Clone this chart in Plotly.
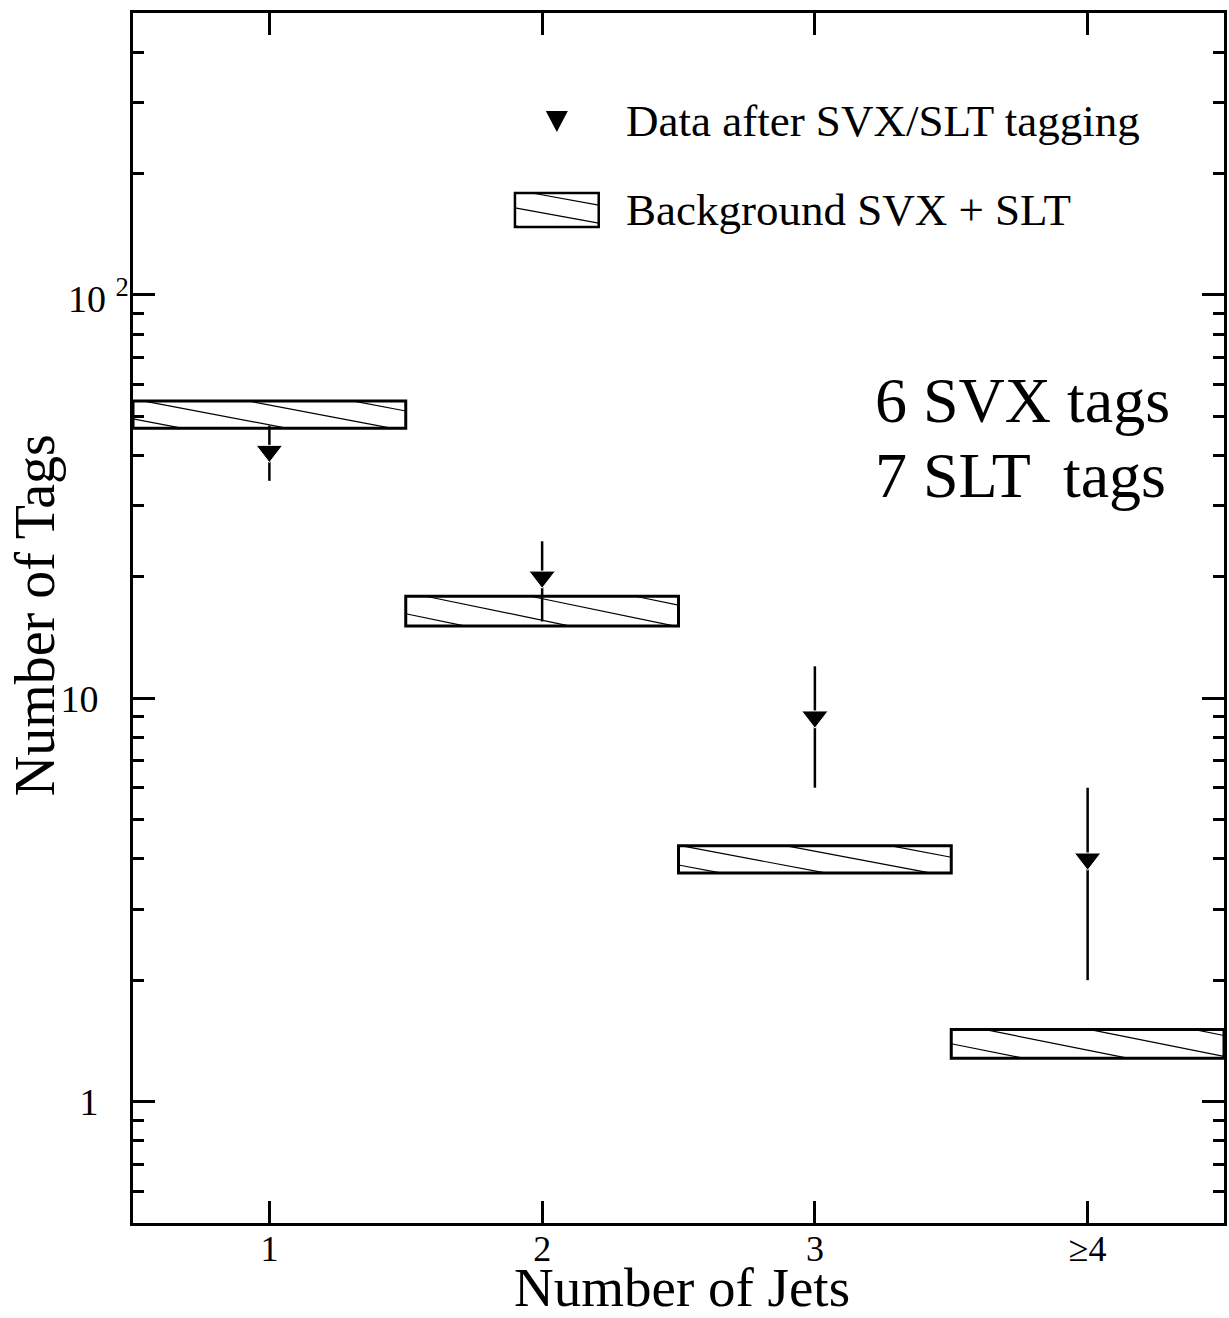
import math
import plotly.graph_objects as go

# ---------------- data ----------------
n_jets = [1, 2, 3, 4]
jet_labels = ["1", "2", "3", "≥4"]
data_tags = [41, 20, 9, 4]
data_err = [6.4, 4.5, 3.0, 2.0]
bkg_low = [46.7, 15.1, 3.69, 1.28]
bkg_high = [54.6, 17.9, 4.31, 1.51]

y_tickvals = [1, 10, 100]
y_ticktext = ["1", "10", ""]          # 10^2 label drawn as annotation below
y_top_label = "10 <sup>2</sup>"
y_minor = [0.5, 0.6, 0.7, 0.8, 0.9, 2, 3, 4, 5, 6, 7, 8, 9,
           20, 30, 40, 50, 60, 70, 80, 90, 200, 300, 400, 500]

FONT = "Liberation Serif, Times New Roman, serif"

# geometry of figure (pixels) for styling
W, H = 1229, 1318
ML, MR, MT, MB = 133, 2, 13, 95
PW = W - ML - MR
PH = H - MT - MB
px_per_x = PW / 4.0

fig = go.Figure()

# background boxes
fig.add_trace(go.Bar(
    x=n_jets, base=bkg_low,
    y=[h - l for h, l in zip(bkg_high, bkg_low)],
    width=1.0,
    marker=dict(color="rgba(0,0,0,0)", line=dict(color="black", width=3)),
    showlegend=False, hoverinfo="skip",
))

# hatching inside boxes (style: shallow diagonal lines)
period = 105 / px_per_x
run = 145 / px_per_x
offsets_px = [10, 20, 2, 33]


def hatch(xl, xr, lo, hi, offset):
    xs, ys = [], []
    a, b = math.log10(lo), math.log10(hi)
    x0 = xl + offset - period * (math.ceil(run / period) + 1)
    while x0 < xr:
        v_a = 1 - (xr - x0) / run
        v_b = 1 - (xl - x0) / run
        vmin, vmax = max(0.0, v_a), min(1.0, v_b)
        if vmin < vmax:
            for v in (vmax, vmin):
                xs.append(x0 + run * (1 - v))
                ys.append(10 ** (a + v * (b - a)))
            xs.append(None)
            ys.append(None)
        x0 += period
    return xs, ys


hx, hy = [], []
for xc, lo, hi, off in zip(n_jets, bkg_low, bkg_high, offsets_px):
    xs, ys = hatch(xc - 0.5, xc + 0.5, lo, hi, off / px_per_x)
    hx += xs
    hy += ys
fig.add_trace(go.Scatter(x=hx, y=hy, mode="lines",
                         line=dict(color="black", width=1.2),
                         showlegend=False, hoverinfo="skip"))

# data points
fig.add_trace(go.Scatter(
    x=n_jets, y=data_tags, mode="markers",
    marker=dict(symbol="triangle-down", size=23, color="black",
                line=dict(color="white", width=1)),
    error_y=dict(type="data", array=data_err, symmetric=True,
                 color="black", thickness=2.5, width=0),
    showlegend=False,
))

# ---------------- layout ----------------
def to_paper_x(px):
    return (px - ML) / PW


def to_paper_y(py):
    return (H - MB - py) / PH


shapes = []
annotations = []

# legend: triangle marker
shapes.append(dict(type="path", xref="paper", yref="paper",
                   xsizemode="pixel", ysizemode="pixel",
                   xanchor=to_paper_x(558), yanchor=to_paper_y(121),
                   path="M-11,10 L11,10 L0,-11 Z",
                   fillcolor="black", line=dict(color="black", width=0)))
# legend: hatched box
bx0, bx1, by0, by1 = 516, 600, 193, 227
shapes.append(dict(type="rect", xref="paper", yref="paper",
                   x0=to_paper_x(bx0), x1=to_paper_x(bx1),
                   y0=to_paper_y(by1), y1=to_paper_y(by0),
                   line=dict(color="black", width=2.5)))
lper, lrun = 100, 189
x0 = bx0 + 17 - 3 * lper
while x0 < bx1:
    v_a = 1 - (bx1 - x0) / lrun
    v_b = 1 - (bx0 - x0) / lrun
    vmin, vmax = max(0.0, v_a), min(1.0, v_b)
    if vmin < vmax:
        pts = [(x0 + lrun * (1 - v), by1 - v * (by1 - by0)) for v in (vmax, vmin)]
        shapes.append(dict(type="line", xref="paper", yref="paper",
                           x0=to_paper_x(pts[0][0]), y0=to_paper_y(pts[0][1]),
                           x1=to_paper_x(pts[1][0]), y1=to_paper_y(pts[1][1]),
                           line=dict(color="black", width=1.2)))
    x0 += lper

annotations.append(dict(text="Data after SVX/SLT tagging", xref="paper", yref="paper",
                        x=to_paper_x(625), y=to_paper_y(121), xanchor="left", yanchor="middle",
                        showarrow=False, font=dict(family=FONT, size=45, color="black")))
annotations.append(dict(text="Background SVX + SLT", xref="paper", yref="paper",
                        x=to_paper_x(625), y=to_paper_y(210), xanchor="left", yanchor="middle",
                        showarrow=False, font=dict(family=FONT, size=45, color="black")))
annotations.append(dict(text="6 SVX tags", xref="paper", yref="paper",
                        x=to_paper_x(875), y=to_paper_y(400), xanchor="left", yanchor="middle",
                        showarrow=False, font=dict(family=FONT, size=64, color="black")))
annotations.append(dict(text="7 SLT&nbsp; tags", xref="paper", yref="paper",
                        x=to_paper_x(875), y=to_paper_y(475), xanchor="left", yanchor="middle",
                        showarrow=False, font=dict(family=FONT, size=64, color="black")))
# 10^2 tick label
annotations.append(dict(text=y_top_label, xref="paper", yref="y",
                        x=to_paper_x(131), y=math.log10(y_tickvals[2]),
                        xanchor="right", yanchor="middle", yshift=-1,
                        showarrow=False, font=dict(family=FONT, size=38, color="black")))
# axis titles
annotations.append(dict(text="Number of Jets", xref="paper", yref="paper",
                        x=to_paper_x(684), y=to_paper_y(1287), xanchor="center", yanchor="middle",
                        showarrow=False, font=dict(family=FONT, size=55, color="black")))
annotations.append(dict(text="Number of Tags", xref="paper", yref="paper",
                        x=to_paper_x(35), y=to_paper_y(615), xanchor="center", yanchor="middle",
                        textangle=-90,
                        showarrow=False, font=dict(family=FONT, size=56, color="black")))

fig.update_layout(
    width=W, height=H,
    margin=dict(l=ML, r=MR, t=MT, b=MB, pad=0),
    paper_bgcolor="white", plot_bgcolor="white",
    font=dict(family=FONT, color="black"),
    shapes=shapes, annotations=annotations,
    showlegend=False,
    xaxis=dict(range=[0.5, 4.5], tickvals=n_jets, ticktext=jet_labels,
               ticks="inside", ticklen=22, tickwidth=2.5, tickcolor="black",
               showline=True, linewidth=3, linecolor="black", mirror="allticks",
               showgrid=False, zeroline=False,
               tickfont=dict(family=FONT, size=36, color="black"),
               ticklabelstandoff=-8),
    yaxis=dict(type="log", range=[math.log10(0.5), math.log10(500)],
               tickvals=y_tickvals, ticktext=y_ticktext,
               ticks="inside", ticklen=22, tickwidth=2.5, tickcolor="black",
               showline=True, linewidth=3, linecolor="black", mirror="allticks",
               showgrid=False, zeroline=False,
               tickfont=dict(family=FONT, size=38, color="black"),
               ticklabelstandoff=24,
               minor=dict(tickmode="array", tickvals=y_minor, ticks="inside",
                          ticklen=11, tickwidth=2.5, tickcolor="black", showgrid=False)),
)

fig.write_html("out.html", config={"displayModeBar": False},
               post_script="document.body.style.margin='0';")
